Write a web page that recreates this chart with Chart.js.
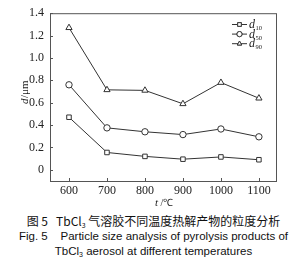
<!DOCTYPE html>
<html>
<head>
<meta charset="utf-8">
<script src="https://cdn.jsdelivr.net/npm/chart.js@4"></script>
<style>
body { margin: 0; background: #fff; width: 307px; height: 264px; overflow: hidden; }
#wrap { position: relative; width: 307px; height: 208px; }
.cap { position: absolute; left: 0; width: 307px; text-align: center; color: #111; white-space: nowrap;
       font-family: "Liberation Sans", Arial, "Noto Sans CJK SC", sans-serif; font-size: 11.5px; }
.cap sub { font-size: 7px; vertical-align: -2px; }
</style>
</head>
<body>
<div id="wrap"><canvas id="myChart" width="307" height="208"></canvas></div>
<div class="cap" style="top:212px;font-size:12px;font-family:'Noto Sans CJK SC','Liberation Sans',sans-serif;">图 5&nbsp;&nbsp;&nbsp;TbCl<sub>3</sub> 气溶胶不同温度热解产物的粒度分析</div>
<div class="cap" style="top:230px;">Fig. 5&nbsp;&nbsp;&nbsp;&nbsp;Particle size analysis of pyrolysis products of</div>
<div class="cap" style="top:245px;">TbCl<sub>3</sub> aerosol at different temperatures</div>
<script>
// temperatures (°C) and particle sizes (µm)
var temps = [600, 700, 800, 900, 1000, 1100];
var d10 = [0.47, 0.155, 0.12, 0.095, 0.115, 0.09];
var d50 = [0.76, 0.375, 0.34, 0.315, 0.365, 0.295];
var d90 = [1.27, 0.715, 0.71, 0.59, 0.78, 0.64];
var seriesNames = ['10', '50', '90'];
var yTicks = [0, 0.2, 0.4, 0.6, 0.8, 1.0, 1.2, 1.4];

var ink = '#333';

function toPoints(arr) {
    return arr.map(function (v, i) { return { x: temps[i], y: v }; });
}

function makeSet(name, arr, shape) {
    return {
        label: name,
        data: toPoints(arr),
        borderColor: ink,
        borderWidth: 1,
        backgroundColor: '#fff',
        pointStyle: shape,
        pointRadius: shape === 'triangle' ? 3.6 : 3.2,
        pointBorderWidth: 1,
        pointBorderColor: ink,
        pointBackgroundColor: '#fff',
        tension: 0
    };
}

// frame, inward ticks, legend and axis titles
var extras = {
    id: 'extras',
    afterDraw: function (chart) {
        var ctx = chart.ctx;
        var a = chart.chartArea;
        var xs = chart.scales.x, ys = chart.scales.y;
        ctx.save();
        ctx.strokeStyle = '#555';
        ctx.lineWidth = 1;
        ctx.strokeRect(a.left + 0.5, a.top + 0.5, a.right - a.left, a.bottom - a.top);

        ctx.beginPath();
        temps.forEach(function (t) {
            var px = Math.round(xs.getPixelForValue(t)) + 0.5;
            ctx.moveTo(px, a.bottom);
            ctx.lineTo(px, a.bottom - 3);
        });
        yTicks.forEach(function (v) {
            var py = Math.round(ys.getPixelForValue(v)) + 0.5;
            ctx.moveTo(a.left, py);
            ctx.lineTo(a.left + 3, py);
        });
        ctx.stroke();

        // legend
        chart.data.datasets.forEach(function (ds, i) {
            var y = 24 + i * 9.6;
            ctx.strokeStyle = ink;
            ctx.beginPath();
            ctx.moveTo(232, y + 0.5);
            ctx.lineTo(247, y + 0.5);
            ctx.stroke();
            Chart.helpers.drawPoint(ctx, {
                pointStyle: ds.pointStyle, radius: 2.6, borderWidth: 1
            }, 239.5, y + 0.5);
            ctx.fillStyle = '#fff';
            ctx.fill();
            ctx.strokeStyle = ink;
            Chart.helpers.drawPoint(ctx, {
                pointStyle: ds.pointStyle, radius: 2.6, borderWidth: 1
            }, 239.5, y + 0.5);
            ctx.fillStyle = '#222';
            ctx.textBaseline = 'alphabetic';
            ctx.textAlign = 'left';
            ctx.font = 'italic 12px "Liberation Serif"';
            ctx.fillText('d', 249, y + 4);
            ctx.font = '6.5px "Liberation Serif"';
            ctx.fillText(ds.label, 255.5, y + 6);
        });

        // x title
        ctx.fillStyle = '#222';
        ctx.textBaseline = 'alphabetic';
        ctx.font = 'italic 11px "Liberation Serif"';
        ctx.fillText('t', 155, 206);
        ctx.font = '10px "Liberation Serif"';
        ctx.fillText(' /℃', 158, 206);

        // y title
        ctx.translate(28, 104);
        ctx.rotate(-Math.PI / 2);
        ctx.font = 'italic 11px "Liberation Serif"';
        ctx.fillText('d', 0, 0);
        ctx.font = '11px "Liberation Serif"';
        ctx.fillText('/μm', 6, 0);
        ctx.restore();
    }
};

var ctx = document.getElementById('myChart').getContext('2d');
var chart = new Chart(ctx, {
    type: 'line',
    data: {
        datasets: [
            makeSet(seriesNames[0], d10, 'rect'),
            makeSet(seriesNames[1], d50, 'circle'),
            makeSet(seriesNames[2], d90, 'triangle')
        ]
    },
    plugins: [extras],
    options: {
        responsive: false,
        animation: false,
        layout: { padding: { top: 13, right: 31, left: 0, bottom: 0 } },
        plugins: { legend: { display: false }, tooltip: { enabled: false } },
        scales: {
            x: {
                type: 'linear',
                min: 550,
                max: 1145,
                afterBuildTicks: function (scale) {
                    scale.ticks = temps.map(function (v) { return { value: v }; });
                },
                afterFit: function (scale) { scale.height = 27; },
                grid: { display: false, drawTicks: false },
                border: { display: true, color: '#555' },
                ticks: {
                    padding: 3,
                    color: '#222',
                    font: { family: 'Liberation Serif', size: 12 },
                    callback: function (v) { return String(v); }
                }
            },
            y: {
                min: -0.1,
                max: 1.4,
                afterBuildTicks: function (scale) {
                    scale.ticks = yTicks.map(function (v) { return { value: v }; });
                },
                afterFit: function (scale) { scale.width = 50; },
                grid: { display: false, drawTicks: false },
                border: { display: true, color: '#555' },
                ticks: {
                    padding: 6,
                    color: '#222',
                    font: { family: 'Liberation Serif', size: 12 },
                    callback: function (v) { return v === 0 ? '0' : v.toFixed(1); }
                }
            }
        }
    }
});
</script>
</body>
</html>
